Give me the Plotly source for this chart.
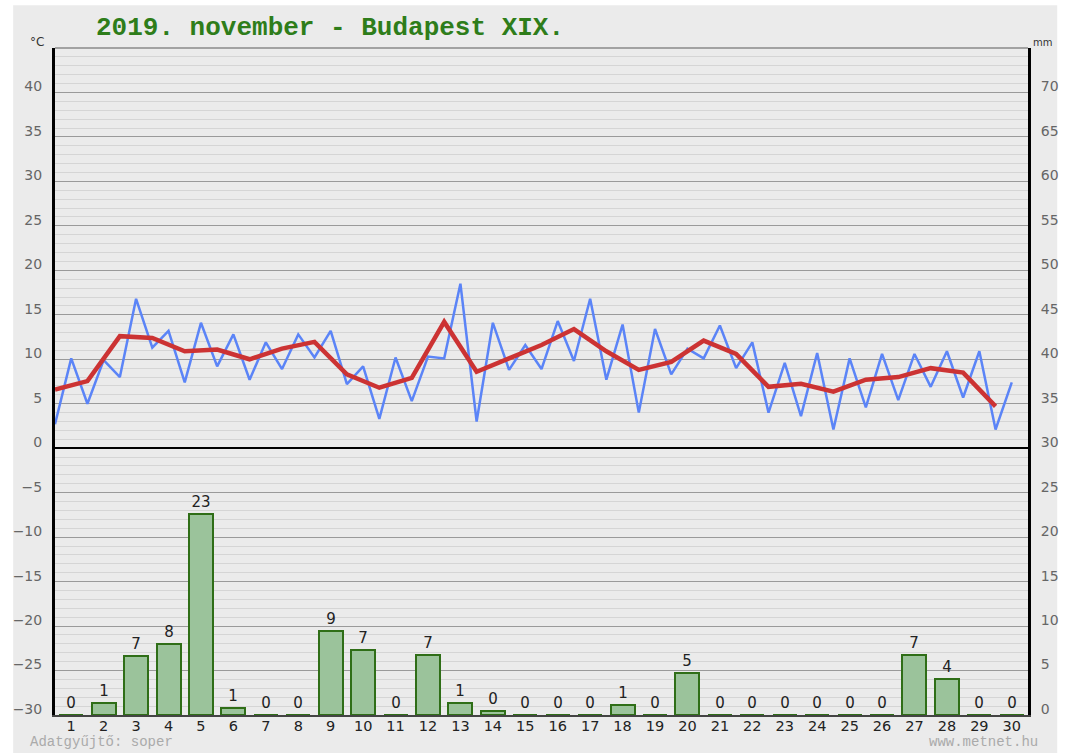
import plotly.graph_objects as go

days = list(range(1, 31))
day_labels = [str(d) for d in days]

# daily minimum / maximum temperature (°C)
tmin = [2.7, 5.0, 8.0, 11.3, 7.4, 9.2, 7.7, 8.9, 10.2, 7.2,
        3.3, 5.3, 10.1, 3.0, 8.8, 8.9, 9.8, 7.7, 4.0, 8.3,
        10.1, 9.0, 4.0, 3.6, 2.1, 4.6, 5.4, 6.9, 5.7, 2.1]
tmax = [10.1, 9.9, 16.8, 13.2, 14.1, 12.8, 11.9, 12.8, 13.2, 9.2,
        10.2, 10.3, 18.5, 14.1, 11.6, 14.3, 16.8, 13.9, 13.4, 11.2,
        13.8, 11.9, 9.6, 10.7, 10.1, 10.6, 10.6, 10.9, 10.9, 7.4]
# daily mean temperature (°C)
tavg = [6.6, 7.55, 12.6, 12.4, 10.9, 11.1, 10.0, 11.2, 11.95, 8.3,
        6.8, 7.9, 14.2, 8.6, 10.1, 11.6, 13.4, 10.9, 8.8, 9.7,
        12.1, 10.6, 6.9, 7.25, 6.35, 7.7, 8.0, 9.0, 8.5, 4.7]
# daily precipitation (mm)
precip = [0, 1.4, 6.6, 8.0, 22.6, 0.8, 0, 0, 9.4, 7.3,
          0, 6.7, 1.3, 0.4, 0, 0, 0, 1.1, 0, 4.7,
          0, 0, 0, 0, 0, 0, 6.7, 4.1, 0, 0]

temp_ticks = list(range(-30, 45, 5))
mm_ticks = list(range(0, 75, 5))

# min at the start of each day slot, max at its middle
blue_x, blue_y = [], []
for d, lo, hi in zip(days, tmin, tmax):
    blue_x += [d - 0.5, d]
    blue_y += [lo, hi]
avg_x = [d - 0.5 for d in days]

BG = "#ebebeb"
fig = go.Figure()

fig.add_trace(go.Bar(
    x=days, y=precip, yaxis="y2", width=0.74,
    marker=dict(color="#9bc39b", line=dict(color="#2f6e17", width=2)),
    text=[f"{round(v + 1e-9):d}" for v in precip], textposition="outside",
    textfont=dict(family="DejaVu Sans", size=15, color="#222222"),
    cliponaxis=False, showlegend=False, hoverinfo="skip"))

fig.add_trace(go.Scatter(
    x=blue_x, y=blue_y, mode="lines",
    line=dict(color="#5b84f7", width=2.5), showlegend=False))

fig.add_trace(go.Scatter(
    x=avg_x, y=tavg, mode="lines",
    line=dict(color="#cc3333", width=4.5), showlegend=False))

fig.update_layout(
    width=1071, height=753,
    margin=dict(l=55, r=36, t=48, b=38),
    paper_bgcolor="white", plot_bgcolor=BG,
    bargap=0,
    xaxis=dict(range=[0.5, 30.5], tickvals=days, ticktext=day_labels,
               showgrid=False, zeroline=False, showline=True,
               linecolor="#444444", linewidth=2, ticks="",
               ticklabelstandoff=-3,
               tickfont=dict(family="DejaVu Sans", size=14.5, color="#222222"),
               fixedrange=True),
    yaxis=dict(range=[-30, 45], tickvals=temp_ticks,
               showgrid=True, gridcolor="#9a9a9a", gridwidth=1.2,
               minor=dict(dtick=1, showgrid=True, gridcolor="#d5d5d5", gridwidth=1),
               zeroline=True, zerolinecolor="black", zerolinewidth=2,
               showline=True, linecolor="black", linewidth=3, ticks="",
               ticklabelstandoff=7, ticklabelshift=-6,
               tickfont=dict(family="DejaVu Sans", size=14, color="#666666")),
    yaxis2=dict(range=[0, 75], tickvals=mm_ticks, overlaying="y", side="right",
                showgrid=False, zeroline=False, showline=True,
                linecolor="black", linewidth=3, ticks="",
                ticklabelstandoff=7, ticklabelshift=-6,
                tickfont=dict(family="DejaVu Sans", size=14, color="#666666")),
    shapes=[
        dict(type="rect", xref="paper", yref="paper", x0=-0.043, x1=1.03,
             y0=-0.1, y1=1.064, fillcolor=BG, line=dict(width=0), layer="below"),
        dict(type="line", xref="paper", yref="paper", x0=0, x1=1, y0=1, y1=1,
             line=dict(color="#8a8a8a", width=1.5)),
    ],
    annotations=[
        dict(text="<b>2019. november - Budapest XIX.</b>", xref="paper", yref="paper",
             x=0.04, y=1.03, xanchor="left", yanchor="middle", showarrow=False,
             font=dict(family="Liberation Mono", size=26, color="#2e7d1a")),
        dict(text="°C", xref="paper", yref="paper", x=-0.018, y=1.009,
             xanchor="center", yanchor="middle", showarrow=False,
             font=dict(family="DejaVu Sans", size=12, color="#333333")),
        dict(text="mm", xref="paper", yref="paper", x=1.015, y=1.008,
             xanchor="center", yanchor="middle", showarrow=False,
             font=dict(family="DejaVu Sans", size=10, color="#333333")),
        dict(text="Adatgyűjtő: soper", xref="paper", yref="paper", x=-0.0276, y=-0.0555,
             xanchor="left", yanchor="bottom", showarrow=False,
             font=dict(family="Liberation Mono", size=14, color="#aaaaaa")),
        dict(text="www.metnet.hu", xref="paper", yref="paper", x=1.0123, y=-0.0555,
             xanchor="right", yanchor="bottom", showarrow=False,
             font=dict(family="Liberation Mono", size=14, color="#aaaaaa")),
    ],
)

fig.write_html(
    "out.html",
    config={"displayModeBar": False},
    post_script="document.body.style.margin='0';document.body.style.overflow='hidden';",
)
